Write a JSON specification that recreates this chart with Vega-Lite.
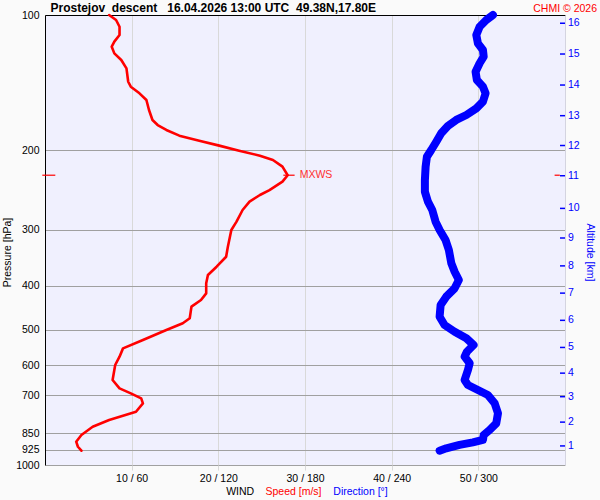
{
  "$schema": "https://vega.github.io/schema/vega-lite/v6.json",
  "autosize": "none",
  "width": 520,
  "height": 450,
  "padding": {"left": 45, "top": 15, "right": 35, "bottom": 35},
  "background": "#fafafa",
  "config": {
    "font": "Liberation Sans",
    "view": {"fill": "#f0f0fe", "stroke": null},
    "axis": {"labelFont": "Liberation Sans", "titleFont": "Liberation Sans", "labelFontSize": 10.5, "titleFontSize": 10.5, "titleFontWeight": "normal", "labelColor": "#000000"}
  },
  "datasets": {
    "speed": [
      {"p": 100, "speed": 7.4}, {"p": 102.6, "speed": 8.2}, {"p": 106.2, "speed": 8.6}, {"p": 110.8, "speed": 8.6},
      {"p": 114.6, "speed": 8.0}, {"p": 117.6, "speed": 7.7}, {"p": 121.7, "speed": 8.0}, {"p": 125.9, "speed": 8.8},
      {"p": 131.4, "speed": 9.4}, {"p": 140.7, "speed": 9.6}, {"p": 144.3, "speed": 9.9}, {"p": 149.3, "speed": 10.9},
      {"p": 154.5, "speed": 11.7}, {"p": 162.6, "speed": 12.0}, {"p": 171.1, "speed": 12.4}, {"p": 175.6, "speed": 13.0},
      {"p": 180.1, "speed": 14.0}, {"p": 185.4, "speed": 15.5}, {"p": 190.2, "speed": 17.8}, {"p": 195.1, "speed": 20.1},
      {"p": 200.2, "speed": 22.4}, {"p": 205.4, "speed": 24.8}, {"p": 210, "speed": 26.3}, {"p": 217.3, "speed": 27.4},
      {"p": 227, "speed": 28.0}, {"p": 234.6, "speed": 27.4}, {"p": 244.9, "speed": 25.9}, {"p": 251.2, "speed": 24.8},
      {"p": 259.9, "speed": 23.6}, {"p": 271.2, "speed": 22.8}, {"p": 287.9, "speed": 22.1}, {"p": 300.4, "speed": 21.5},
      {"p": 327.3, "speed": 21.1}, {"p": 344.5, "speed": 20.9}, {"p": 362.5, "speed": 19.8}, {"p": 378.2, "speed": 18.8},
      {"p": 394.6, "speed": 18.6}, {"p": 415.5, "speed": 18.6}, {"p": 429.9, "speed": 18.0}, {"p": 444.8, "speed": 16.9},
      {"p": 472.1, "speed": 16.7}, {"p": 484.3, "speed": 15.9}, {"p": 501.2, "speed": 14.0}, {"p": 527.4, "speed": 11.3},
      {"p": 550.6, "speed": 9.0}, {"p": 574.4, "speed": 8.6}, {"p": 599.5, "speed": 8.1}, {"p": 647.2, "speed": 7.8},
      {"p": 675.6, "speed": 8.6}, {"p": 693, "speed": 9.9}, {"p": 711.2, "speed": 11.1}, {"p": 729.4, "speed": 11.3},
      {"p": 761.5, "speed": 10.5}, {"p": 794.3, "speed": 7.4}, {"p": 822.3, "speed": 5.5}, {"p": 857.6, "speed": 4.2},
      {"p": 887.5, "speed": 3.6}, {"p": 910.8, "speed": 3.8}, {"p": 929.5, "speed": 4.2}
    ],
    "dir": [
      {"p": 100, "dir": 310.1}, {"p": 102.6, "dir": 305.5}, {"p": 106.2, "dir": 300.9}, {"p": 110.8, "dir": 298.6},
      {"p": 115.6, "dir": 299.7}, {"p": 119.6, "dir": 303.2}, {"p": 123.8, "dir": 303.7}, {"p": 128, "dir": 300.9},
      {"p": 133.7, "dir": 298.1}, {"p": 139.5, "dir": 299.0}, {"p": 144.3, "dir": 303.2}, {"p": 149.3, "dir": 305.0},
      {"p": 155.8, "dir": 303.2}, {"p": 161.2, "dir": 298.6}, {"p": 166.8, "dir": 291.7}, {"p": 171.1, "dir": 284.7},
      {"p": 176.5, "dir": 278.9}, {"p": 183.2, "dir": 274.3}, {"p": 191.2, "dir": 270.9}, {"p": 199.5, "dir": 267.4},
      {"p": 206.5, "dir": 264.4}, {"p": 217.3, "dir": 263.5}, {"p": 232.6, "dir": 263.0}, {"p": 247, "dir": 263.0},
      {"p": 259.9, "dir": 265.1}, {"p": 271.2, "dir": 268.1}, {"p": 287.9, "dir": 270.4}, {"p": 300.4, "dir": 273.2},
      {"p": 316.2, "dir": 277.3}, {"p": 332.9, "dir": 279.6}, {"p": 356.3, "dir": 281.3}, {"p": 371.9, "dir": 283.6},
      {"p": 388, "dir": 286.5}, {"p": 404.9, "dir": 283.6}, {"p": 422.6, "dir": 277.8}, {"p": 440.9, "dir": 273.9},
      {"p": 468.2, "dir": 273.2}, {"p": 488.5, "dir": 276.6}, {"p": 505.6, "dir": 283.6}, {"p": 522.9, "dir": 291.7},
      {"p": 541.2, "dir": 296.7}, {"p": 560.1, "dir": 292.1}, {"p": 574.4, "dir": 290.5}, {"p": 594.2, "dir": 294.0},
      {"p": 614.9, "dir": 292.8}, {"p": 647.2, "dir": 290.5}, {"p": 664, "dir": 292.8}, {"p": 681.3, "dir": 299.7},
      {"p": 698.9, "dir": 306.6}, {"p": 729.4, "dir": 311.3}, {"p": 767.5, "dir": 313.6}, {"p": 807.9, "dir": 312.4},
      {"p": 836.1, "dir": 307.8}, {"p": 857.6, "dir": 303.7}, {"p": 879.6, "dir": 303.2}, {"p": 890.5, "dir": 296.2},
      {"p": 902.4, "dir": 287.0}, {"p": 918.2, "dir": 277.8}, {"p": 929.5, "dir": 273.2}
    ],
    "mxws": [{"label": "MXWS", "speed": 28.0, "p": 227}],
    "alt": [
      {"alt": 1, "p": 907}, {"alt": 2, "p": 803}, {"alt": 3, "p": 705}, {"alt": 4, "p": 625},
      {"alt": 5, "p": 548}, {"alt": 6, "p": 477}, {"alt": 7, "p": 415}, {"alt": 8, "p": 361},
      {"alt": 9, "p": 313}, {"alt": 10, "p": 269}, {"alt": 11, "p": 227.6}, {"alt": 12, "p": 195},
      {"alt": 13, "p": 167.4}, {"alt": 14, "p": 143.1}, {"alt": 15, "p": 122.1}, {"alt": 16, "p": 104.3}
    ]
  },
  "resolve": {"scale": {"x": "independent"}, "axis": {"x": "independent", "y": "independent"}},
  "layer": [
    {
      "data": {"name": "speed"},
      "mark": {"type": "line", "color": "#ff0000", "strokeWidth": 2.6, "strokeJoin": "round", "strokeCap": "round"},
      "encoding": {
        "x": {"field": "speed", "type": "quantitative",
          "scale": {"domain": [0, 60], "nice": false, "zero": false},
          "axis": {"orient": "bottom", "values": [10, 20, 30, 40, 50], "labelExpr": "datum.value + ' / ' + datum.value * 6",
            "grid": true, "gridColor": "#d9d9d9", "gridWidth": 1, "domain": false, "ticks": true, "tickSize": 5, "tickColor": "#d9d9d9",
            "labelPadding": 3, "labelFlush": false,
            "title": "Speed [m/s]", "titleColor": "#ff0000", "titleX": 248, "titleY": 26, "titleBaseline": "middle", "titleAlign": "center"}},
        "y": {"field": "p", "type": "quantitative",
          "scale": {"type": "log", "domain": [100, 1000], "reverse": true, "nice": false, "zero": false},
          "axis": {"orient": "left", "values": [100, 200, 300, 400, 500, 600, 700, 850, 925, 1000], "format": "d",
            "grid": true, "gridColor": "#a0a0a0", "gridWidth": 1, "domain": true, "domainColor": "#000000", "domainWidth": 1,
            "ticks": false, "labelPadding": 6, "labelFlush": false, "labelOverlap": false,
            "title": "Pressure [hPa]", "titleColor": "#000000", "titleX": -37.5, "titleY": 237, "titleAngle": -90, "titleBaseline": "middle", "titleAlign": "center"}},
        "order": {"field": "p", "type": "quantitative"}
      }
    },
    {
      "data": {"name": "dir"},
      "mark": {"type": "line", "color": "#0000ff", "strokeWidth": 8, "strokeJoin": "round", "strokeCap": "round"},
      "encoding": {
        "x": {"field": "dir", "type": "quantitative",
          "scale": {"domain": [0, 360], "nice": false, "zero": false},
          "axis": {"orient": "bottom", "labels": false, "ticks": false, "grid": false, "domain": false,
            "title": "Direction [°]", "titleColor": "#0000ff", "titleX": 315, "titleY": 26, "titleBaseline": "middle", "titleAlign": "center"}},
        "y": {"field": "p", "type": "quantitative",
          "scale": {"type": "log", "domain": [100, 1000], "reverse": true, "nice": false, "zero": false}, "axis": null},
        "order": {"field": "p", "type": "quantitative"}
      }
    },
    {
      "data": {"name": "mxws"},
      "mark": {"type": "rule", "color": "#ff0000", "strokeWidth": 1.2},
      "encoding": {
        "x": {"datum": -0.31, "type": "quantitative",
          "scale": {"domain": [0, 60], "nice": false, "zero": false},
          "axis": {"orient": "bottom", "labels": false, "ticks": false, "grid": false, "domain": false,
            "title": "WIND", "titleColor": "#000000", "titleX": 194.7, "titleY": 26, "titleBaseline": "middle", "titleAlign": "center"}},
        "x2": {"datum": 1.19},
        "y": {"field": "p", "type": "quantitative",
          "scale": {"type": "log", "domain": [100, 1000], "reverse": true, "nice": false, "zero": false}, "axis": null}
      }
    },
    {
      "data": {"name": "mxws"},
      "mark": {"type": "rule", "color": "#ff0000", "strokeWidth": 1.2},
      "encoding": {
        "x": {"datum": 58.8, "type": "quantitative", "scale": {"domain": [0, 60], "nice": false, "zero": false},
          "axis": {"orient": "top", "labels": false, "ticks": false, "grid": false, "domain": false,
            "title": "Prostejov\u00a0\u00a0descent\u00a0\u00a0\u00a016.04.2026 13:00 UTC\u00a0\u00a049.38N,17.80E",
            "titleColor": "#000000", "titleFontWeight": "bold", "titleFontSize": 12, "titleX": 5, "titleY": -4, "titleBaseline": "alphabetic", "titleAlign": "left"}},
        "x2": {"datum": 59.4},
        "y": {"field": "p", "type": "quantitative",
          "scale": {"type": "log", "domain": [100, 1000], "reverse": true, "nice": false, "zero": false}, "axis": null}
      }
    },
    {
      "data": {"name": "mxws"},
      "mark": {"type": "rule", "color": "#ff0000", "strokeWidth": 1.2},
      "encoding": {
        "x": {"datum": 27.5, "type": "quantitative", "scale": {"domain": [0, 60], "nice": false, "zero": false}, "axis": null},
        "x2": {"datum": 28.8},
        "y": {"field": "p", "type": "quantitative",
          "scale": {"type": "log", "domain": [100, 1000], "reverse": true, "nice": false, "zero": false}, "axis": null}
      }
    },
    {
      "data": {"name": "mxws"},
      "mark": {"type": "text", "color": "#ff3030", "fontSize": 10.5, "align": "left", "baseline": "middle", "dx": 12},
      "encoding": {
        "x": {"field": "speed", "type": "quantitative", "scale": {"domain": [0, 60], "nice": false, "zero": false}, "axis": null},
        "y": {"field": "p", "type": "quantitative",
          "scale": {"type": "log", "domain": [100, 1000], "reverse": true, "nice": false, "zero": false}, "axis": null},
        "text": {"field": "label"}
      }
    },
    {
      "data": {"name": "alt"},
      "mark": {"type": "rule", "color": "#0000ff", "strokeWidth": 1.5},
      "encoding": {
        "x": {"datum": 59.42, "type": "quantitative",
          "scale": {"domain": [0, 60], "nice": false, "zero": false},
          "axis": {"orient": "top", "labels": false, "ticks": false, "grid": false, "domain": true, "domainColor": "#000000", "domainWidth": 1.2,
            "title": "CHMI © 2026", "titleColor": "#ff0000", "titleX": 551.5, "titleY": -7, "titleBaseline": "middle", "titleAlign": "right"}},
        "x2": {"datum": 60},
        "y": {"field": "p", "type": "quantitative",
          "scale": {"type": "log", "domain": [100, 1000], "reverse": true, "nice": false, "zero": false},
          "axis": {"orient": "right", "labels": false, "ticks": false, "grid": false, "domain": true, "domainColor": "#d4d4e0",
            "title": "Altitude [km]", "titleColor": "#0000ff", "titleX": 24, "titleY": 237, "titleAngle": 90, "titleBaseline": "middle", "titleAlign": "center"}}
      }
    },
    {
      "data": {"name": "alt"},
      "mark": {"type": "text", "color": "#0000ff", "fontSize": 10.5, "align": "left", "baseline": "middle", "dx": 3},
      "encoding": {
        "x": {"datum": 60, "type": "quantitative", "scale": {"domain": [0, 60], "nice": false, "zero": false}, "axis": null},
        "y": {"field": "p", "type": "quantitative",
          "scale": {"type": "log", "domain": [100, 1000], "reverse": true, "nice": false, "zero": false}, "axis": null},
        "text": {"field": "alt"}
      }
    }
  ]
}
